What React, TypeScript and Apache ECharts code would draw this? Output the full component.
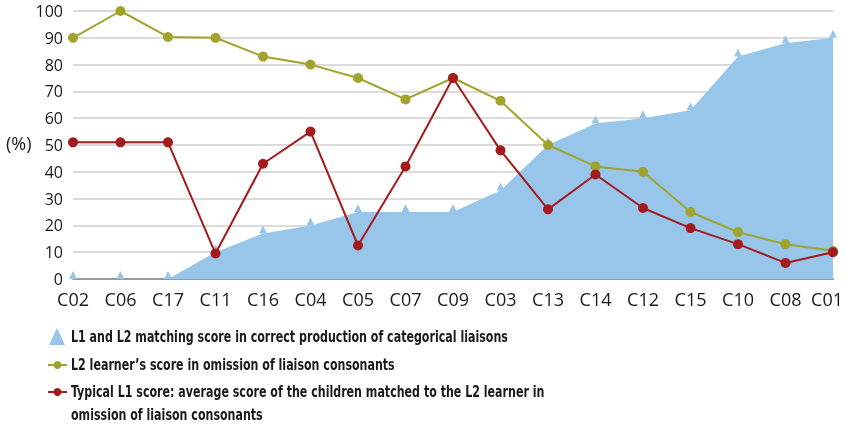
import React, { useEffect, useRef } from "react";
import * as echarts from "echarts";

const categories = ["C02", "C06", "C17", "C11", "C16", "C04", "C05", "C07", "C09", "C03", "C13", "C14", "C12", "C15", "C10", "C08", "C01"];
const matchingScore = [0, 0, 0, 10, 17, 20, 25, 25, 25, 33, 50, 58, 60, 63, 83, 88, 90];
const l2Omission = [90, 100, 90.3, 90, 83, 80, 75, 67, 75, 66.5, 50, 42, 40, 25, 17.5, 13, 10.5];
const l1Omission = [51, 51, 51, 9.5, 43, 55, 12.5, 42, 75, 48, 26, 39, 26.5, 19, 13, 6, 10];
const seriesNames = [
  "L1 and L2 matching score in correct production of categorical liaisons",
  "L2 learner\u2019s score in omission of liaison consonants",
  "Typical L1 score: average score of the children matched to the L2 learner in omission of liaison consonants",
];
const legendLines = [
  "L1 and L2 matching score in correct production of categorical liaisons",
  "L2 learner\u2019s score in omission of liaison consonants",
  "Typical L1 score: average score of the children matched to the L2 learner in",
  "omission of liaison consonants",
];
const yUnit = "(%)";

const BLUE = "#98c6ea";
const OLIVE = "#a0a32c";
const RED = "#a41b1e";
const TEXT = "#1a1a1a";
const AXIS_FONT = "'Open Sans', 'Noto Sans', sans-serif";
const LEGEND_FONT = "'Liberation Sans Narrow', 'DejaVu Sans Condensed', 'Roboto', sans-serif";

export default function App() {
  const ref = useRef<HTMLDivElement>(null);
  useEffect(() => {
    if (!ref.current) return;
    const chart = echarts.init(ref.current, null, { renderer: "svg" });
    const legendText = (text: string, y: number) => ({
      type: "text",
      x: 71,
      y,
      scaleX: 0.77,
      style: { text, fill: TEXT, font: `bold 16px ${LEGEND_FONT}`, textVerticalAlign: "middle", verticalAlign: "middle" },
    });
    const lineIcon = (color: string, y: number) => ({
      type: "group",
      children: [
        { type: "line", shape: { x1: 48, y1: y, x2: 67, y2: y }, style: { stroke: color, lineWidth: 2 } },
        { type: "circle", shape: { cx: 57.5, cy: y, r: 4 }, style: { fill: color } },
      ],
    });
    const lastIndex = categories.length - 1;
    chart.setOption({
      animation: false,
      grid: { left: 73, right: 13, top: 11, bottom: 150, containLabel: false, outerBoundsMode: "none" },
      xAxis: {
        type: "category",
        data: categories,
        boundaryGap: false,
        axisLine: { show: true, lineStyle: { color: "#9a9a9a", width: 2 } },
        axisTick: { show: false },
        axisLabel: {
          color: TEXT,
          fontSize: 18,
          fontFamily: AXIS_FONT,
          margin: 10,
          interval: 0,
          lineHeight: 20,
          formatter: (v: string, i: number) => (i === lastIndex ? `{last|${v}}` : v),
          rich: {
            last: { color: TEXT, fontSize: 18, fontFamily: AXIS_FONT, lineHeight: 20, padding: [0, 12, 0, 0] },
          },
        },
        splitLine: { show: false },
      },
      yAxis: {
        type: "value",
        min: 0,
        max: 100,
        interval: 10,
        axisLine: { show: false },
        axisTick: { show: false },
        axisLabel: { color: TEXT, fontSize: 16, fontFamily: AXIS_FONT, margin: 10, lineHeight: 14 },
        splitLine: { show: true, lineStyle: { color: "#cfcfcf", width: 1.5 } },
      },
      series: [
        {
          name: seriesNames[0],
          type: "line",
          data: matchingScore,
          symbol: "triangle",
          symbolSize: [8, 8],
          symbolOffset: [0, "-50%"],
          showSymbol: true,
          itemStyle: { color: BLUE },
          lineStyle: { width: 0, color: BLUE },
          areaStyle: { color: BLUE, opacity: 1 },
          z: 1,
        },
        {
          name: seriesNames[1],
          type: "line",
          data: l2Omission,
          symbol: "circle",
          symbolSize: 10,
          itemStyle: { color: OLIVE },
          lineStyle: { width: 2, color: OLIVE },
          z: 2,
        },
        {
          name: seriesNames[2],
          type: "line",
          data: l1Omission,
          symbol: "circle",
          symbolSize: 10,
          itemStyle: { color: RED },
          lineStyle: { width: 2, color: RED },
          z: 3,
        },
      ],
      graphic: [
        { type: "text", left: 6, top: 134, style: { text: yUnit, fill: TEXT, font: `18px ${AXIS_FONT}` } },
        { type: "polygon", shape: { points: [[49, 345], [57, 328], [65, 345]] }, style: { fill: BLUE } },
        legendText(legendLines[0], 336),
        lineIcon(OLIVE, 365),
        legendText(legendLines[1], 364),
        lineIcon(RED, 392),
        legendText(legendLines[2], 391),
        legendText(legendLines[3], 414),
      ],
    });
    return () => chart.dispose();
  }, []);
  return <div ref={ref} style={{ position: "fixed", left: 0, top: 0, width: 846, height: 429 }} />;
}
